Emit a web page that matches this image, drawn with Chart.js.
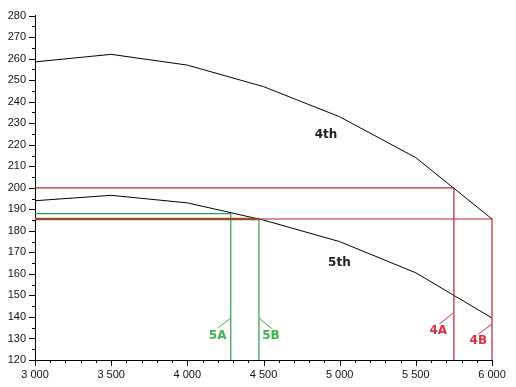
<!DOCTYPE html>
<html>
<head>
<meta charset="utf-8">
<script src="https://cdn.jsdelivr.net/npm/chart.js@4/dist/chart.umd.min.js"></script>
<style>
  html, body { margin: 0; padding: 0; background: #fff; }
  #wrap { width: 516px; height: 387px; }
</style>
</head>
<body>
<div id="wrap"><canvas id="gears"></canvas></div>
<script>
// engine speed (x) and the two gear curves
const rpm = [3000, 3500, 4000, 4500, 5000, 5500, 6000];
const gear4 = [258.5, 262, 257, 247, 233, 214, 185.5];
const gear5 = [194, 196.5, 193, 185, 175, 160.5, 139.5];

// shift construction lines (x, y pairs)
const red4A = [[3000, 200], [5750, 200], [5750, 120]];
const red4B = [[3000, 185.5], [6000, 185.5], [6000, 120]];
const green5A = [[3000, 188], [4285, 188], [4285, 120]];
const green5B = [[4470, 185.5], [4470, 120]];
const overlap = [[3000, 185.5], [4470, 185.5]];

// little leader strokes next to the labels
const leaders = [
    { pts: [[4287, 139.6], [4203, 135]], color: '#3aa757' },
    { pts: [[4472, 139.3], [4554, 134.7]], color: '#3aa757' },
    { pts: [[5746, 141.9], [5654, 136.7]], color: '#d22d3a' },
    { pts: [[6000, 136.7], [5910, 132]], color: '#d22d3a' }
];

// text labels
const labels = [
    { text: '4th', x: 4910, y: 224.8, color: '#222' },
    { text: '5th', x: 4998, y: 165.3, color: '#222' },
    { text: '5A', x: 4199, y: 131.3, color: '#3cb14f' },
    { text: '5B', x: 4549, y: 131.3, color: '#3cb14f' },
    { text: '4A', x: 5647, y: 133.4, color: '#e0303c' },
    { text: '4B', x: 5910, y: 129, color: '#e0303c' }
];

const toPts = arr => arr.map(p => ({ x: p[0], y: p[1] }));
const fmt = v => String(v).replace(/\B(?=(\d{3})+(?!\d))/g, ' ');

function seg(data, color, width) {
    return {
        data: data,
        borderColor: color,
        borderWidth: width,
        pointRadius: 0,
        showLine: true,
        fill: false,
        tension: 0,
        clip: false
    };
}

// short minor ticks, longer major ticks, drawn outside the axes
const tickMarks = {
    id: 'tickMarks',
    afterDraw(chart) {
        const c = chart.ctx;
        const xs = chart.scales.x, ys = chart.scales.y;
        c.save();
        c.strokeStyle = '#000';
        c.lineWidth = 1;
        c.beginPath();
        xs.ticks.forEach(t => {
            const px = Math.round(xs.getPixelForValue(t.value)) + 0.5;
            const len = t.value % 500 === 0 ? 6 : 3;
            c.moveTo(px, xs.top);
            c.lineTo(px, xs.top + len);
        });
        ys.ticks.forEach(t => {
            const py = Math.round(ys.getPixelForValue(t.value)) + 0.5;
            const len = t.value % 10 === 0 ? 6 : 3;
            c.moveTo(ys.right, py);
            c.lineTo(ys.right - len, py);
        });
        c.stroke();

        leaders.forEach(l => {
            c.strokeStyle = l.color;
            c.beginPath();
            c.moveTo(xs.getPixelForValue(l.pts[0][0]), ys.getPixelForValue(l.pts[0][1]));
            c.lineTo(xs.getPixelForValue(l.pts[1][0]), ys.getPixelForValue(l.pts[1][1]));
            c.stroke();
        });

        c.font = 'bold 12px "DejaVu Sans", sans-serif';
        c.textAlign = 'center';
        c.textBaseline = 'middle';
        labels.forEach(l => {
            c.fillStyle = l.color;
            c.fillText(l.text, xs.getPixelForValue(l.x), ys.getPixelForValue(l.y));
        });
        c.restore();
    }
};

const ctx = document.getElementById('gears').getContext('2d');

const gearChart = new Chart(ctx, {
    type: 'scatter',
    data: {
        datasets: [
            seg(toPts(red4A), '#c0222f', 1.2),
            seg(toPts(red4B), '#c0222f', 1.2),
            seg(toPts(green5A), '#2f9e4c', 1.2),
            seg(toPts(green5B), '#2f9e4c', 1.2),
            seg(toPts(overlap), '#86692e', 2.5),
            seg(rpm.map((x, i) => ({ x: x, y: gear4[i] })), '#000', 1),
            seg(rpm.map((x, i) => ({ x: x, y: gear5[i] })), '#000', 1)
        ]
    },
    options: {
        responsive: true,
        maintainAspectRatio: false,
        animation: false,
        layout: { padding: { top: 15, right: 24, left: 0, bottom: 0 } },
        plugins: {
            legend: { display: false },
            tooltip: { enabled: false }
        },
        scales: {
            x: {
                type: 'linear',
                min: 3000,
                max: 6000,
                afterFit(s) { s.height = 27; },
                grid: { drawOnChartArea: false, drawTicks: false },
                border: { color: '#000', width: 1 },
                ticks: {
                    stepSize: 100,
                    autoSkip: false,
                    maxRotation: 0,
                    padding: 8,
                    color: '#111',
                    font: { family: '"Liberation Sans", Arial, sans-serif', size: 11 },
                    callback: v => (v % 500 === 0 ? fmt(v) : '')
                }
            },
            y: {
                min: 120,
                max: 280,
                afterFit(s) { s.width = 35; },
                grid: { drawOnChartArea: false, drawTicks: false },
                border: { color: '#000', width: 1 },
                ticks: {
                    stepSize: 5,
                    autoSkip: false,
                    padding: 9,
                    color: '#111',
                    font: { family: '"Liberation Sans", Arial, sans-serif', size: 11 },
                    callback: v => (v % 10 === 0 ? String(v) : '')
                }
            }
        }
    },
    plugins: [tickMarks]
});
</script>
</body>
</html>
